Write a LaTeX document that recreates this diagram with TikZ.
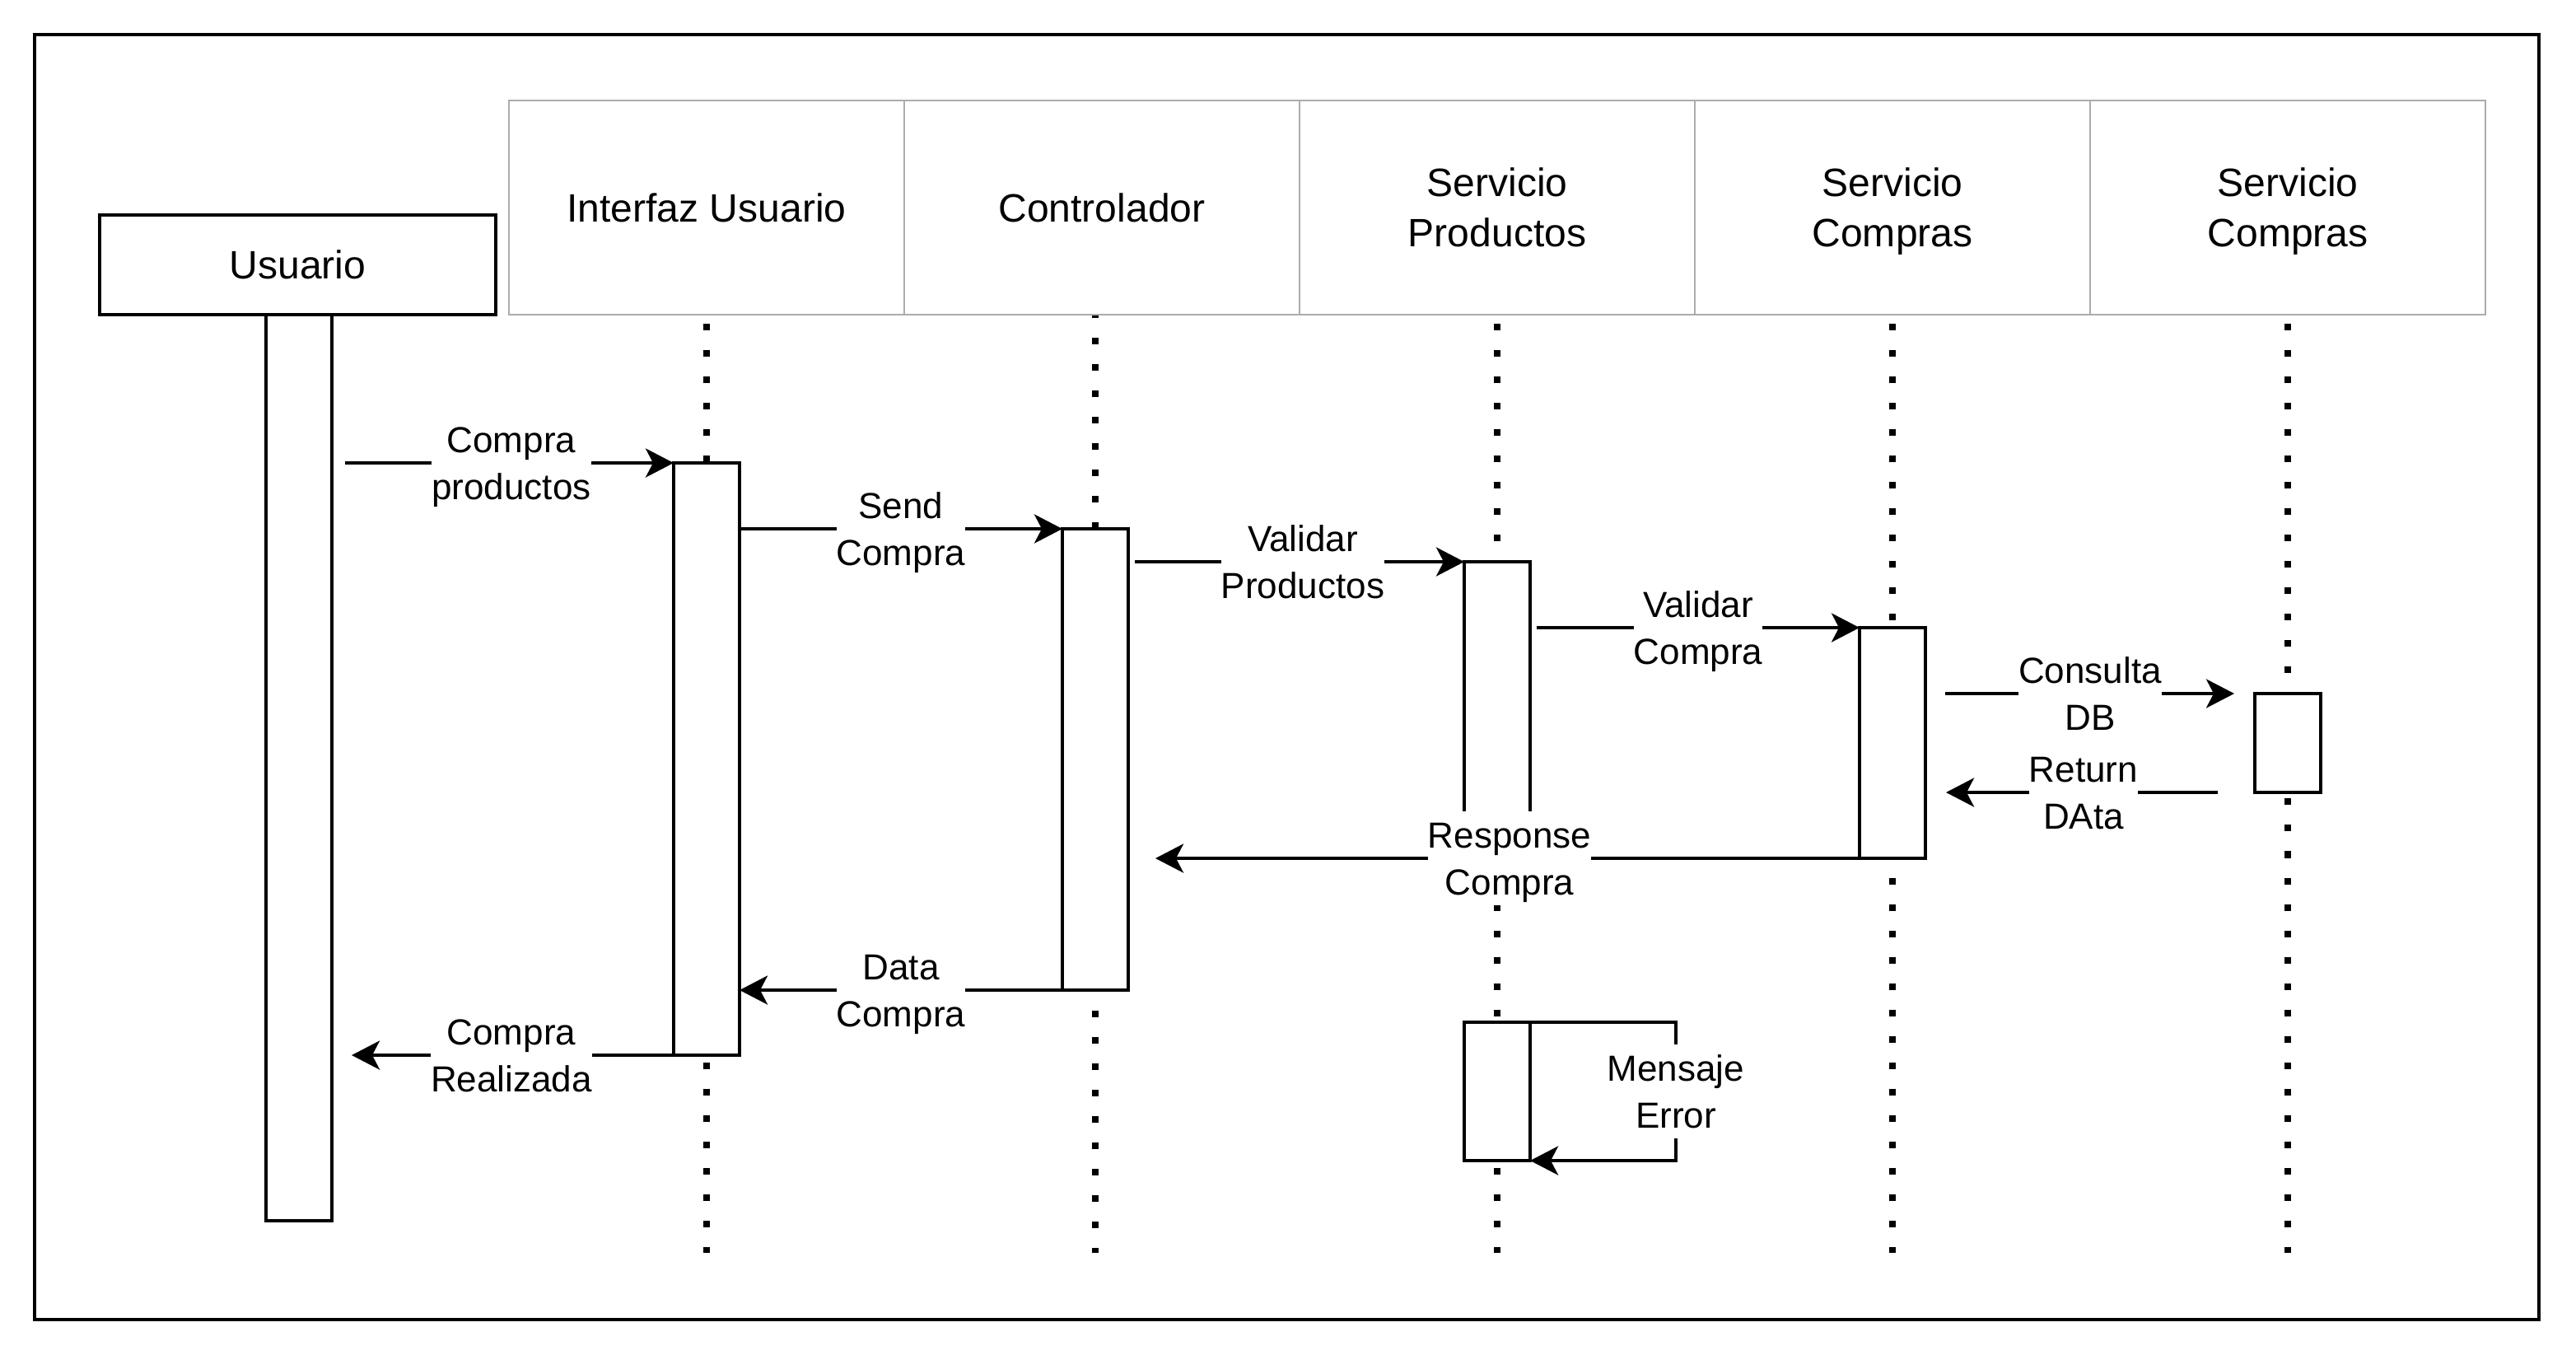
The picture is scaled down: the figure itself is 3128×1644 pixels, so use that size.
\documentclass[tikz,border=0pt]{standalone}
\usepackage{fontspec}
\setmainfont{Liberation Sans}
\usetikzlibrary{arrows.meta,fit,calc,backgrounds}
\definecolor{hdrgray}{RGB}{172,172,172}
\newcommand\hdrfont{\fontsize{13.66pt}{17.36pt}\selectfont}
\newcommand\lblfont{\fontsize{12.52pt}{16.22pt}\selectfont}
\newcommand\hstrut{\rule[-3.79pt]{0pt}{17.36pt}}
\newcommand\lstrut{\rule[-3.63pt]{0pt}{16.22pt}}
\newcommand\HL[1]{\hstrut#1\hstrut}
\newcommand\HH[2]{\hstrut#1\\#2\hstrut}
\newcommand\LL[2]{\lstrut#1\\#2\lstrut}
\tikzset{
  framebox/.style={draw, line width=0.045cm, inner sep=0pt, outer sep=0pt},
  hdrbox/.style={draw=hdrgray, line width=0.02cm, minimum width=4.8cm, minimum height=2.6cm,
    inner sep=0pt, outer sep=0pt, font=\hdrfont, align=center},
  actorbox/.style={draw, line width=0.045cm, minimum width=4.81cm, minimum height=1.21cm,
    inner sep=0pt, outer sep=0pt, font=\hdrfont, align=center},
  barbox/.style={draw, fill=white, line width=0.04cm, inner sep=0pt, outer sep=0pt},
  msg/.style={line width=0.04cm, -{Stealth[length=0.34cm, width=0.35cm, inset=0.09cm]}},
  lbl/.style={fill=white, inner sep=0pt, font=\lblfont, align=center},
  life/.style={line width=0.08cm, dash pattern=on 0.08cm off 0.24cm}
}
\begin{document}
\begin{tikzpicture}[x=0.01cm, y=-0.01cm]
\useasboundingbox (0,0) rectangle (3128,1644);
\node[framebox, fit={(42,42) (3083,1602)}] (frame) {};

% headers
\node[hdrbox] (h1) at (858,252) {\HL{Interfaz Usuario}};
\node[hdrbox] (h2) at (1338,252) {\HL{Controlador}};
\node[hdrbox] (h3) at (1818,252) {\HH{Servicio}{Productos}};
\node[hdrbox] (h4) at (2298,252) {\HH{Servicio}{Compras}};
\node[hdrbox] (h5) at (2778,252) {\HH{Servicio}{Compras}};

% actor
\node[actorbox] (u) at (361.5,321.5) {\HL{Usuario}};

% activation bars
\node[barbox, fit={(323,382) (403,1482)}] (ubar) {};
\node[barbox, fit={(818,562) (898,1281)}] (ibar) {};
\node[barbox, fit={(1290,642) (1370,1202)}] (cbar) {};
\node[barbox, fit={(1778,682) (1858,1042)}] (pbar) {};
\node[barbox, fit={(2258,762) (2338,1042)}] (sbar) {};
\node[barbox, fit={(2738,842) (2818,962)}] (dbar) {};
\node[barbox, fit={(1778,1241) (1858,1409)}] (ebar) {};

% lifeline ends
\coordinate (e1) at (858,1521);
\coordinate (e2) at (1330,1521);
\coordinate (e3) at (1818,1521);
\coordinate (e4) at (2298,1521);
\coordinate (e5) at (2778,1521);

\begin{scope}[on background layer]
  \draw[life, dash phase=0.21cm] (h1.south) -- (e1);
  \draw[life, dash phase=0.04cm] (h2.south -| cbar.center) -- (cbar.north);
  \draw[life, dash phase=0.074cm] (cbar.south) -- (e2);
  \draw[life, dash phase=0.21cm] (h3.south) -- (e3);
  \draw[life, dash phase=0.21cm] (h4.south) -- (e4);
  \draw[life, dash phase=0.21cm] (h5.south) -- (e5);
\end{scope}

% messages
\coordinate (m1s) at (419,562);
\draw[msg] (m1s) -- (ibar.north west);
\node[lbl] (l1) at (621,562) {\LL{Compra}{productos}};

\draw[msg] (ibar.east |- cbar.north) -- (cbar.north west);
\node[lbl] (l2) at (1094,642) {\LL{Send}{Compra}};

\coordinate (m3s) at (1378,682);
\draw[msg] (m3s) -- (pbar.north west);
\node[lbl] (l3) at (1582,682) {\LL{Validar}{Productos}};

\coordinate (m4s) at (1866,762);
\draw[msg] (m4s) -- (sbar.north west);
\node[lbl] (l4) at (2062,762) {\LL{Validar}{Compra}};

\coordinate (m5s) at (2362,842);
\coordinate (m5e) at (2713,842);
\draw[msg] (m5s) -- (m5e);
\node[lbl] (l5) at (2538,842) {\LL{Consulta}{DB}};

\coordinate (m6s) at (2693,962);
\coordinate (m6e) at (2363,962);
\draw[msg] (m6s) -- (m6e);
\node[lbl] (l6) at (2530,962) {\LL{Return}{DAta}};

\coordinate (m7e) at (1403,1042);
\draw[msg] (sbar.south west) -- (m7e);
\node[lbl] (l7) at (1833,1042) {\LL{Response}{Compra}};

\draw[msg] (cbar.south east) -- (ibar.east |- cbar.south);
\node[lbl] (l8) at (1094,1202) {\LL{Data}{Compra}};

\coordinate (m9e) at (427,1281);
\draw[msg] (ibar.south east) -- (m9e);
\node[lbl] (l9) at (621,1281) {\LL{Compra}{Realizada}};

\draw[msg] (ebar.north east) -- ++(177,0) |- (ebar.south east);
\node[lbl] (l10) at (2035,1325) {\LL{Mensaje}{Error}};
\end{tikzpicture}
\end{document}
